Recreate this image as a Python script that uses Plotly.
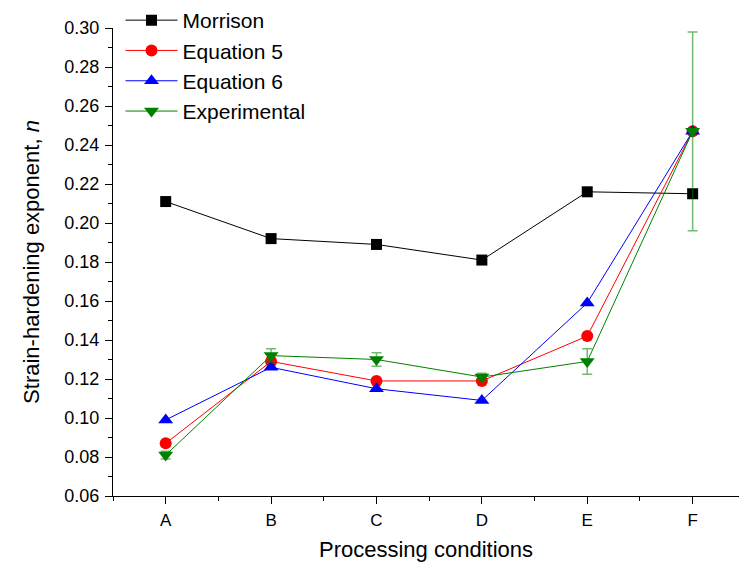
import plotly.graph_objects as go

categories = ["A", "B", "C", "D", "E", "F"]
morrison = [0.211, 0.192, 0.189, 0.181, 0.216, 0.215]
equation5 = [0.087, 0.129, 0.119, 0.119, 0.142, 0.247]
equation6 = [0.099, 0.126, 0.115, 0.109, 0.159, 0.247]
experimental = [0.081, 0.132, 0.130, 0.121, 0.129, 0.247]
experimental_err = [0.002, 0.0035, 0.0035, 0.002, 0.0065, 0.051]

xpos = list(range(len(categories)))

fig = go.Figure()
fig.add_trace(go.Scatter(x=xpos, y=morrison, name="Morrison", mode="lines+markers",
                         line=dict(color="black", width=1),
                         marker=dict(symbol="square", size=11, color="black")))
fig.add_trace(go.Scatter(x=xpos, y=equation5, name="Equation 5", mode="lines+markers",
                         line=dict(color="red", width=1),
                         marker=dict(symbol="circle", size=12, color="red")))
fig.add_trace(go.Scatter(x=xpos, y=equation6, name="Equation 6", mode="lines+markers",
                         line=dict(color="blue", width=1),
                         marker=dict(symbol="triangle-up", size=13, color="blue")))
fig.add_trace(go.Scatter(x=xpos, y=experimental, name="Experimental", mode="lines+markers",
                         line=dict(color="green", width=1),
                         marker=dict(symbol="triangle-down", size=13, color="green"),
                         error_y=dict(type="data", array=experimental_err, visible=True,
                                      color="rgba(0,128,0,0.55)", thickness=1.5, width=5)))

fig.update_layout(
    width=739, height=565,
    margin=dict(l=113, r=0, t=28, b=69),
    plot_bgcolor="white", paper_bgcolor="white",
    font=dict(family="Liberation Sans, Arial, sans-serif", color="black"),
    legend=dict(x=0.012, y=1.06, xanchor="left", yanchor="top",
                font=dict(size=21), bgcolor="rgba(0,0,0,0)", tracegroupgap=0,
                itemwidth=52),
    showlegend=True,
)
fig.update_xaxes(
    range=[-0.5, 5.44], tickvals=xpos, ticktext=categories,
    showline=True, linecolor="black", linewidth=1, mirror=False,
    ticks="outside", ticklen=7, tickcolor="black", showgrid=False, zeroline=False,
    tickfont=dict(size=17), ticklabelstandoff=2,
    minor=dict(ticks="outside", ticklen=4, tick0=-0.5, dtick=1, tickcolor="black", showgrid=False),
    title=dict(text="Processing conditions", font=dict(size=22), standoff=12),
)
fig.update_yaxes(
    range=[0.06, 0.30], dtick=0.02, tickformat=".2f",
    showline=True, linecolor="black", linewidth=1, mirror=False,
    ticks="outside", ticklen=7, tickcolor="black", showgrid=False, zeroline=False,
    tickfont=dict(size=18), ticklabelstandoff=2,
    minor=dict(ticks="outside", ticklen=4, dtick=0.01, tickcolor="black", showgrid=False),
    title=dict(text="Strain-hardening exponent, <i>n</i>", font=dict(size=22), standoff=18),
)

fig.write_html("out.html")
